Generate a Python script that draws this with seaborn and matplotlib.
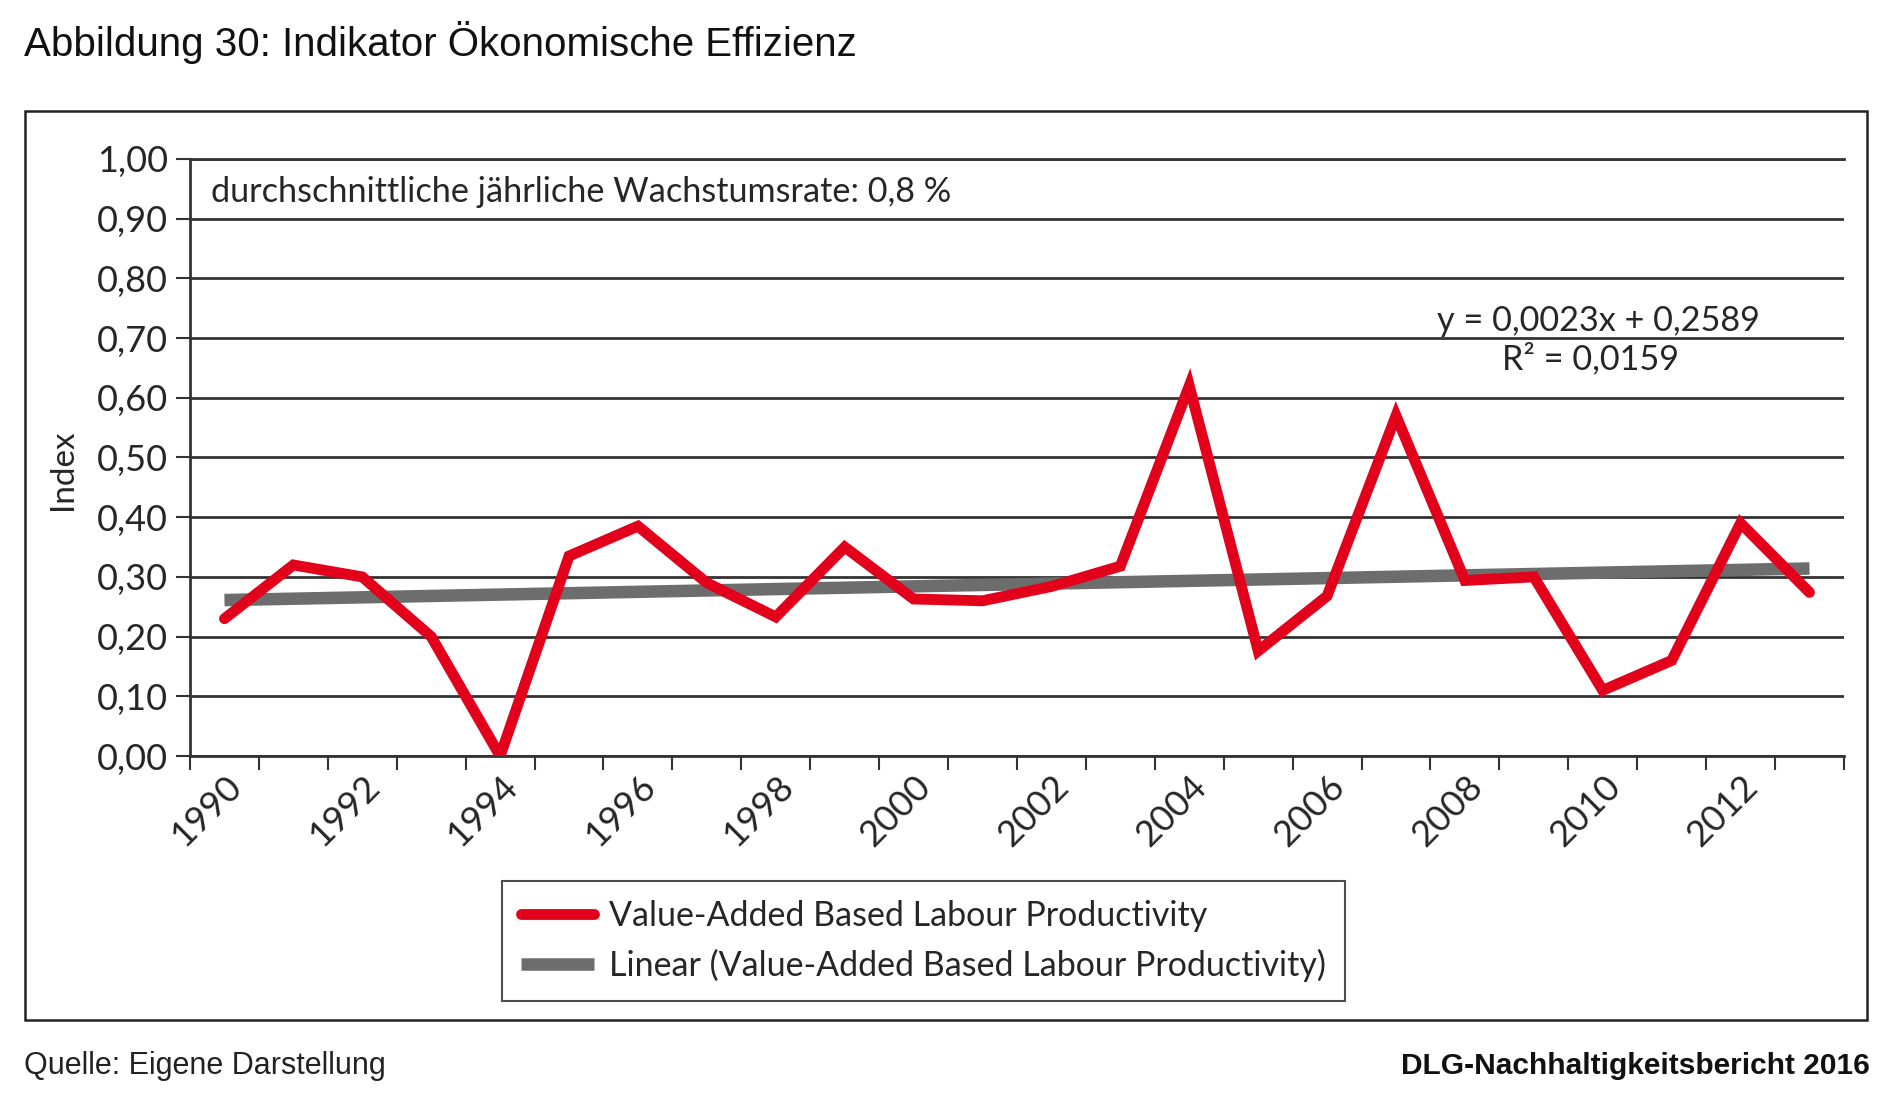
import numpy as np
import pandas as pd
import seaborn as sns
import matplotlib.pyplot as plt
from matplotlib.patches import Rectangle
from matplotlib.lines import Line2D
import matplotlib.transforms as mtransforms

# Data
years = list(range(1990, 2014))
productivity = [0.23, 0.32, 0.30, 0.20, 0.00, 0.335, 0.385, 0.29, 0.233, 0.35,
                0.263, 0.26, 0.284, 0.318, 0.62, 0.176, 0.268, 0.57, 0.294, 0.30,
                0.11, 0.16, 0.39, 0.274]
trend_slope = 0.0023
trend_intercept = 0.2589
y_ticks = [0.0, 0.1, 0.2, 0.3, 0.4, 0.5, 0.6, 0.7, 0.8, 0.9, 1.0]
label_years = list(range(1990, 2013, 2))

df = pd.DataFrame({"Jahr": years, "Wert": productivity})
df["Trend"] = trend_intercept + trend_slope * np.arange(1, len(years) + 1)

sns.set_theme(style="white")
body_font = ["Lato", "DejaVu Sans"]
narrow_font = ["Liberation Sans", "DejaVu Sans"]
plt.rcParams["font.family"] = body_font

RED = "#e2001a"
GRAY = "#6d6d6d"
GRID = "#333333"

fig = plt.figure(figsize=(19, 11), dpi=100)
ax = fig.add_axes([0.1, 0.3127, 0.8705, 0.5428])

sns.lineplot(data=df, x="Jahr", y="Trend", ax=ax, color=GRAY, linewidth=9,
             solid_capstyle="butt", legend=False, zorder=3)
sns.lineplot(data=df, x="Jahr", y="Wert", ax=ax, color=RED, linewidth=7.8,
             solid_joinstyle="miter", legend=False, zorder=4)

ax.set_xlim(years[0] - 0.5, years[-1] + 0.5)
ax.set_ylim(0, 1.0)

# y axis
ax.set_yticks(y_ticks)
ax.set_yticklabels([f"{v:.2f}".replace(".", ",") for v in y_ticks], fontsize=26)
ax.yaxis.grid(True, color=GRID, linewidth=2)
ax.xaxis.grid(False)
ax.tick_params(axis="y", length=10, width=1.5, color=GRID, pad=6, left=True)

# x axis: ticks between categories, labels every 2 years
ax.set_xticks(np.arange(years[0] - 0.5, years[-1] + 1, 1), minor=True)
ax.set_xticks(label_years)
ax.set_xticklabels([str(y) for y in label_years], fontsize=26, rotation=45,
                   ha="right", va="center", rotation_mode="anchor")
ax.tick_params(axis="x", which="major", length=0, pad=0)
ax.tick_params(axis="x", which="minor", length=10, width=1.5, color=GRID,
               bottom=True)
offset = mtransforms.ScaledTranslation(12 / 100, -25 / 100, fig.dpi_scale_trans)
for lab in ax.get_xticklabels():
    lab.set_transform(lab.get_transform() + offset)

for side in ["left", "bottom", "top"]:
    ax.spines[side].set_color(GRID)
    ax.spines[side].set_linewidth(2)
ax.spines["right"].set_visible(False)

ax.set_xlabel("")
ax.set_ylabel("Index", fontsize=24)
ax.yaxis.set_label_coords(-0.068, 0.48)

# annotations inside the plot
ax.text(0.0125, 0.944, "durchschnittliche jährliche Wachstumsrate: 0,8 %",
        transform=ax.transAxes, fontsize=24.7, va="center", ha="left")
fig.text(1598 / 1900, 1 - 321 / 1100, "y = 0,0023x + 0,2589", fontsize=24.7,
         ha="center", va="center")
fig.text(1590 / 1900, 1 - 359 / 1100, "R² = 0,0159", fontsize=24.7,
         ha="center", va="center")

# legend
handles = [Line2D([], [], color=RED, linewidth=7.8),
           Line2D([], [], color=GRAY, linewidth=9, solid_capstyle="butt")]
labels = ["Value-Added Based Labour Productivity",
          "Linear (Value-Added Based Labour Productivity)"]
leg = fig.legend(handles, labels, loc="upper left",
                 bbox_to_anchor=(502 / 1900, 1 - 881 / 1100), fontsize=24.5,
                 frameon=True, fancybox=False, handlelength=2.15,
                 handletextpad=0.45, labelspacing=0.5, borderpad=0.55,
                 borderaxespad=0)
leg.get_frame().set_edgecolor("#222222")
leg.get_frame().set_linewidth(1.5)

# outer frame around the chart
fig.patches.append(Rectangle((25 / 1900, 1 - 1020 / 1100), 1842 / 1900, 909 / 1100,
                             transform=fig.transFigure, fill=False,
                             edgecolor="#222222", linewidth=1.8))

# title and footer
fig.text(24 / 1900, 1 - 42 / 1100, "Abbildung 30: Indikator Ökonomische Effizienz",
         fontsize=29, family=narrow_font, va="center", ha="left", color="#111111")
fig.text(24 / 1900, 1 - 1066 / 1100, "Quelle: Eigene Darstellung",
         fontsize=22, family=narrow_font, va="center", ha="left", color="#222222")
fig.text(1870 / 1900, 1 - 1066 / 1100, "DLG-Nachhaltigkeitsbericht 2016",
         fontsize=21.5, family=narrow_font, fontweight="bold", va="center",
         ha="right", color="#111111")

fig.savefig("out.png", dpi=100, facecolor="white")
